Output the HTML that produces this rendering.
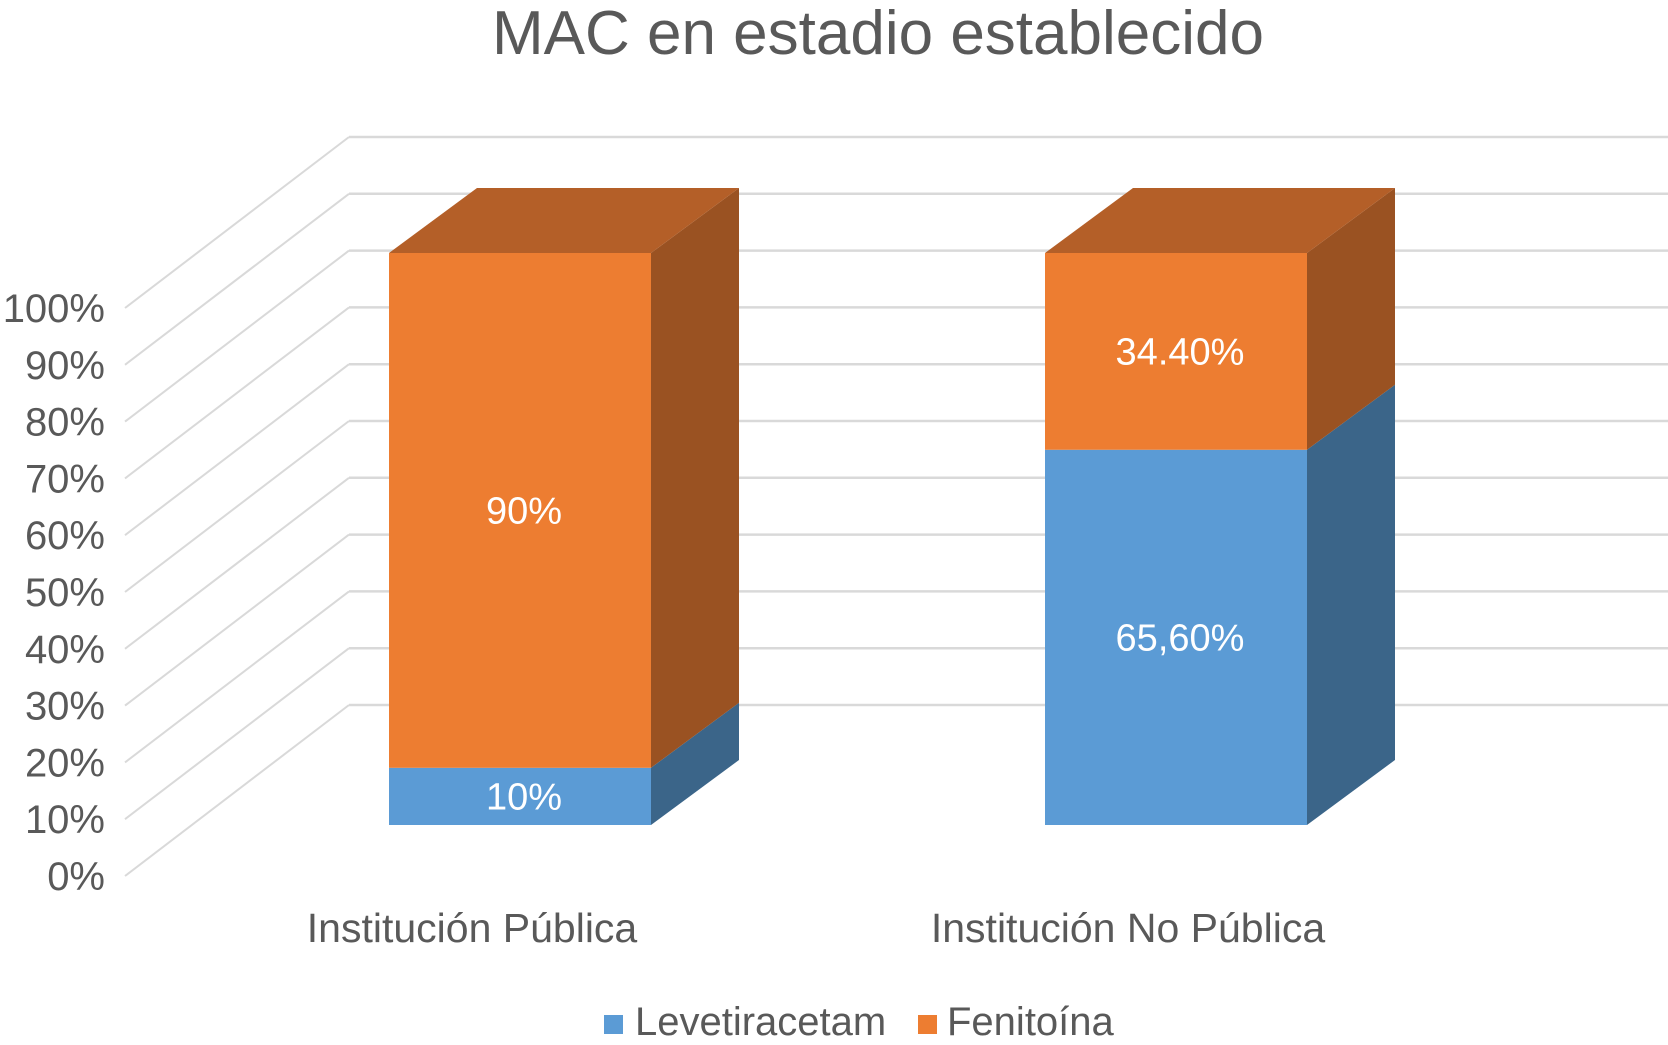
<!DOCTYPE html>
<html><head><meta charset="utf-8"><style>
html,body{margin:0;padding:0;background:#fff;}
svg{display:block;font-family:"Liberation Sans",Arial,sans-serif;}
</style></head><body>
<svg id="chart" width="1668" height="1045" viewBox="0 0 1668 1045" xmlns="http://www.w3.org/2000/svg">
<text x="878" y="54" font-size="62" fill="#595959" text-anchor="middle">MAC en estadio establecido</text>
<g id="grid"></g>
<g id="yaxis"></g>
<g id="bars"></g>
<g id="xaxis"></g>
<g>
<g><rect x="604" y="1015" width="19" height="19" fill="#5b9bd5"/><text x="635" y="1035" font-size="40" fill="#595959">Levetiracetam</text></g>
<g><rect x="918" y="1015" width="19" height="19" fill="#ed7d31"/><text x="947" y="1035" font-size="40" fill="#595959">Fenitoína</text></g>
</g>
</svg>
<script>
const categories = ["Institución Pública", "Institución No Pública"];
const levetiracetam = [10, 65.6];
const fenitoina = [90, 34.4];
const levLabels = ["10%", "65,60%"];
const fenLabels = ["90%", "34.40%"];
const yTicks = [0,10,20,30,40,50,60,70,80,90,100];
const yTickLabels = ["0%","10%","20%","30%","40%","50%","60%","70%","80%","90%","100%"];

const NS="http://www.w3.org/2000/svg";
function mk(tag, attrs, parent){const e=document.createElementNS(NS,tag);for(const k in attrs)e.setAttribute(k,attrs[k]);parent.appendChild(e);return e;}
const yFront = v => 876 - v*5.68;
const yBack = v => 705 - v*5.68;
const yBar = v => 825 - v*5.72;
const barLeft = i => [389,1045][i];
const barW = 262, dx = 88, dy = 65;

const grid=document.getElementById('grid');
const yaxis=document.getElementById('yaxis');
yTicks.forEach((t,i)=>{
  const d=mk('line',{x1:125,y1:yFront(t),x2:349,y2:yBack(t),stroke:'#d9d9d9','stroke-width':2},grid);
  
  
  const h=mk('line',{x1:349,y1:yBack(t),x2:1668,y2:yBack(t),stroke:'#d9d9d9','stroke-width':2.5},grid);
  
  
  const l=mk('text',{x:105,y:yFront(t)+14,'font-size':40,fill:'#595959','text-anchor':'end'},yaxis);
  l.textContent=yTickLabels[i];
  
  
});

const bars=document.getElementById('bars');
const xaxis=document.getElementById('xaxis');
function box(x,v0,v1,front,side,top,name){
  const g=mk('g',{},bars);
  
  
  const yb=yBar(v0), yt=yBar(v1);
  mk('rect',{x:x,y:yt,width:barW,height:yb-yt,fill:front},g);
  mk('polygon',{points:`${x+barW},${yb} ${x+barW+dx},${yb-dy} ${x+barW+dx},${yt-dy} ${x+barW},${yt}`,fill:side},g);
  if(top) mk('polygon',{points:`${x},${yt} ${x+dx},${yt-dy} ${x+barW+dx},${yt-dy} ${x+barW},${yt}`,fill:top},g);
  return [yb,yt];
}
categories.forEach((c,i)=>{
  const x=barLeft(i);
  const a=levetiracetam[i], b=fenitoina[i];
  const [yb1,yt1]=box(x,0,a,'#5b9bd5','#3b6589',null,'bar-levetiracetam-'+(i+1));
  const [yb2,yt2]=box(x,a,a+b,'#ed7d31','#9a5222','#b45f28','bar-fenitoina-'+(i+1));
  const l1=mk('text',{x:x+barW/2+4,y:(yb1+yt1)/2+13,'font-size':38,fill:'#fff','text-anchor':'middle'},bars);
  l1.textContent=levLabels[i];
  
  
  const l2=mk('text',{x:x+barW/2+4,y:(yb2+yt2)/2+13,'font-size':38,fill:'#fff','text-anchor':'middle'},bars);
  l2.textContent=fenLabels[i];
  
  
  const cl=mk('text',{x:x+barW/2-48,y:942,'font-size':41,fill:'#595959','text-anchor':'middle'},xaxis);
  cl.textContent=c;
  
  
});
</script>
</body></html>
